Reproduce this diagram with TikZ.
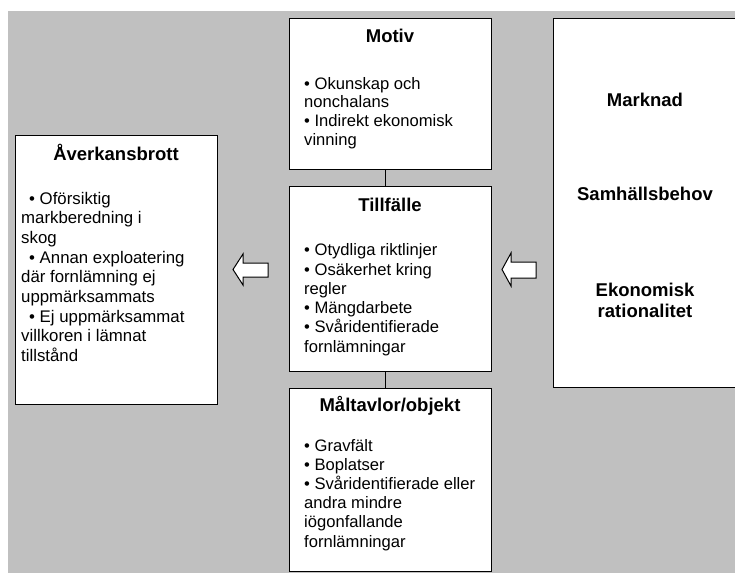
\documentclass[tikz,border=0pt]{standalone}
\usepackage{fontspec}
\setmainfont{Liberation Sans}
\definecolor{bggray}{RGB}{192,192,192}
\begin{document}
\begin{tikzpicture}[x=1pt,y=-1pt,
  box/.style={draw=black, line width=1.3pt, fill=white, inner sep=0pt, anchor=north west},
  ttl/.style={font=\bfseries\fontsize{18.5}{21.3}\selectfont, inner sep=0pt, anchor=base, align=center},
  bodytext/.style={font=\fontsize{16.6}{#1}\selectfont, align=left, inner sep=0pt, anchor=base west},
  conn/.style={draw=black, line width=1.2pt},
  blockarrow/.style={draw=black, line width=1pt, fill=white, line join=miter}]
\useasboundingbox (0,0) rectangle (735,572);
\clip (0,0) rectangle (735,572);
\fill[white] (0,0) rectangle (735,572);
\fill[bggray] (8,11) rectangle (737,574);

% boxes
\node[box, minimum width=202pt, minimum height=151pt] (motiv) at (289,18) {};
\node[box, minimum width=202pt, minimum height=185pt] (till) at (289,186) {};
\node[box, minimum width=202pt, minimum height=183pt] (mal) at (289,388) {};
\node[box, minimum width=202pt, minimum height=269pt] (aver) at (15,135) {};
\node[box, minimum width=190pt, minimum height=369pt] (right) at (553,18) {};

% connectors
\draw[conn] ([xshift=-5pt]motiv.south) -- ([xshift=-5pt]till.north);
\draw[conn] ([xshift=-5pt]till.south) -- ([xshift=-5pt]mal.north);

% titles (anchor = baseline of last line)
\node[ttl] (motivT) at (390,42.7) {Motiv};
\node[ttl] (tillT) at (390,211) {Tillfälle};
\node[ttl] (malT) at (390,411.7) {Måltavlor/objekt};
\node[ttl] (averT) at (116,160.5) {Åverkansbrott};
\node[ttl] (rA) at (645,106.7) {Marknad};
\node[ttl] (rB) at (645,200.7) {Samhällsbehov};
\node[ttl] (rC) at (645,317.3) {Ekonomisk\\rationalitet};

% body texts (anchor = baseline of last line)
\node[bodytext=18.6] (motivB) at (304,145.1) {• Okunskap och\\nonchalans\\• Indirekt ekonomisk\\vinning};
\node[bodytext=19.3] (tillB) at (304,352.2) {• Otydliga riktlinjer\\• Osäkerhet kring\\regler\\• Mängdarbete\\• Svåridentifierade\\fornlämningar};
\node[bodytext=19.2] (malB) at (304,547) {• Gravfält\\• Boplatser\\• Svåridentifierade eller\\andra mindre\\iögonfallande\\fornlämningar};
\node[bodytext=19.7, font=\fontsize{16.8}{19.7}\selectfont] (averB) at (21,361.6) {\hspace*{8pt}• Oförsiktig\\markberedning i\\skog\\\hspace*{8pt}• Annan exploatering\\där fornlämning ej\\uppmärksammats\\\hspace*{8pt}• Ej uppmärksammat\\villkoren i lämnat\\tillstånd};

% block arrows
\draw[blockarrow] (268,263) -- (243,263) -- (243,254) -- (233,269.5) -- (243,285) -- (243,277) -- (268,277) -- cycle;
\draw[blockarrow] (536,262) -- (511,262) -- (511,253) -- (502,269.5) -- (511,286) -- (511,278) -- (536,278) -- cycle;
\end{tikzpicture}
\end{document}
